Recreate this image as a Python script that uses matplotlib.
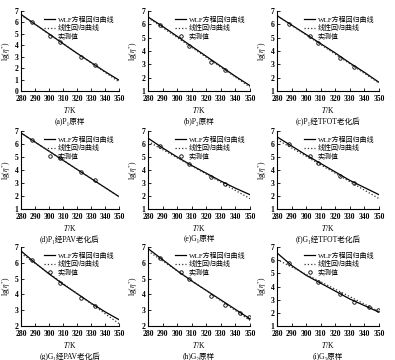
import matplotlib
matplotlib.use("Agg")
import matplotlib.pyplot as plt

plt.rcParams['font.family'] = ['Liberation Serif', 'DejaVu Serif', 'Noto Sans CJK SC']
plt.rcParams['mathtext.fontset'] = 'stix'

# temperatures for curves and measured points
T_curve = [280, 290, 300, 310, 320, 330, 340, 350]
T_lin = [280, 350]
T_meas4 = [288, 308, 323, 333]
T_meas6 = [288, 308, 323, 333, 343, 349]

captions = ['(a)P₁原样', '(b)P₂原样', '(c)P₁经TFOT老化后',
            '(d)P₁经PAV老化后', '(e)G₁原样', '(f)G₁经TFOT老化后',
            '(g)G₁经PAV老化后', '(h)G₂原样', '(i)G₃原样']

wlf_a = [6.7, 5.85, 5.0, 4.15, 3.3, 2.5, 1.7, 0.95]
lin_a = [6.65, 0.8]
pts_a = [6.0, 4.3, 2.95, 2.3]

wlf_b = [6.55, 5.85, 5.1, 4.35, 3.6, 2.85, 2.1, 1.4]
lin_b = [6.5, 1.3]
pts_b = [5.95, 4.4, 3.2, 2.55]

wlf_c = [6.65, 5.95, 5.25, 4.55, 3.85, 3.1, 2.4, 1.65]
lin_c = [6.65, 1.6]
pts_c = [6.05, 4.6, 3.5, 2.8]

wlf_d = [6.85, 6.15, 5.45, 4.75, 4.05, 3.35, 2.65, 1.95]
lin_d = [6.85, 1.95]
pts_d = [6.3, 4.95, 3.85, 3.2]

wlf_e = [6.45, 5.7, 5.0, 4.35, 3.75, 3.15, 2.6, 2.1]
lin_e = [6.2, 1.8]
pts_e = [5.85, 4.45, 3.45, 2.9]

wlf_f = [6.55, 5.85, 5.15, 4.5, 3.85, 3.2, 2.65, 2.1]
lin_f = [6.35, 1.8]
pts_f = [6.0, 4.55, 3.55, 3.0]

wlf_g = [6.75, 6.0, 5.3, 4.65, 4.05, 3.45, 2.9, 2.4]
lin_g = [6.6, 2.15]
pts_g = [6.15, 4.75, 3.8, 3.25]

wlf_h = [6.9, 6.2, 5.5, 4.85, 4.25, 3.65, 3.05, 2.45]
lin_h = [6.75, 2.35]
pts_h = [6.3, 4.95, 3.9, 3.35, 2.85, 2.55]

wlf_i = [6.55, 5.6, 4.85, 4.25, 3.65, 3.05, 2.55, 2.05]
lin_i = [6.05, 2.1]
pts_i = [5.75, 4.35, 3.45, 2.85, 2.45, 2.2]

panels = [
    (wlf_a, lin_a, T_meas4, pts_a, 0),
    (wlf_b, lin_b, T_meas4, pts_b, 1),
    (wlf_c, lin_c, T_meas4, pts_c, 1),
    (wlf_d, lin_d, T_meas4, pts_d, 1),
    (wlf_e, lin_e, T_meas4, pts_e, 1),
    (wlf_f, lin_f, T_meas4, pts_f, 1),
    (wlf_g, lin_g, T_meas4, pts_g, 2),
    (wlf_h, lin_h, T_meas6, pts_h, 2),
    (wlf_i, lin_i, T_meas6, pts_i, 1),
]

W, H = 395, 360
fig = plt.figure(figsize=(W / 100, H / 100), dpi=100)

col_px = [(21, 119), (148, 250), (277, 379)]
row_px = [(11, 91), (131, 209), (247, 326)]

for k, (wlf, lin, tm, pts, ymin) in enumerate(panels):
    r, c = divmod(k, 3)
    x0, x1 = col_px[c]
    y0, y1 = row_px[r]
    ax = fig.add_axes([x0 / W, 1 - y1 / H, (x1 - x0) / W, (y1 - y0) / H])
    ax.plot(T_curve, wlf, '-', color='black', lw=0.9, label='WLF方程回归曲线')
    ax.plot(T_lin, lin, ':', color='#333333', lw=0.9, label='线性回归曲线')
    ax.plot(tm, pts, 'o', mfc='none', mec='black', ms=2.5, mew=0.6, label='实测值')
    ax.set_xlim(280, 350)
    ax.set_ylim(ymin, 7)
    ax.set_xticks(range(280, 351, 10))
    ax.set_yticks(range(ymin, 8))
    for s in ['top', 'right']:
        ax.spines[s].set_visible(False)
    for s in ['left', 'bottom']:
        ax.spines[s].set_linewidth(0.8)
    ax.tick_params(direction='in', length=2, width=0.6, labelsize=5.5)
    ax.tick_params(axis='x', pad=3)
    ax.tick_params(axis='y', pad=2)
    for lb in ax.get_xticklabels() + ax.get_yticklabels():
        lb.set_fontweight('bold')
    ax.set_xlabel('$T$/K', fontsize=5.5, labelpad=1)
    ax.set_ylabel('lg($\\eta^{*}$)', fontsize=5.5, labelpad=1)
    ax.legend(loc='upper right', fontsize=5, frameon=False, handlelength=1.6,
              handletextpad=0.3, labelspacing=0.2, borderaxespad=0.3,
              bbox_to_anchor=(1.0, 1.0))
    ax.text(0.5, -0.39, captions[k], transform=ax.transAxes, ha='center',
            va='center', fontsize=5.5)

fig.savefig('out.png', dpi=100)
